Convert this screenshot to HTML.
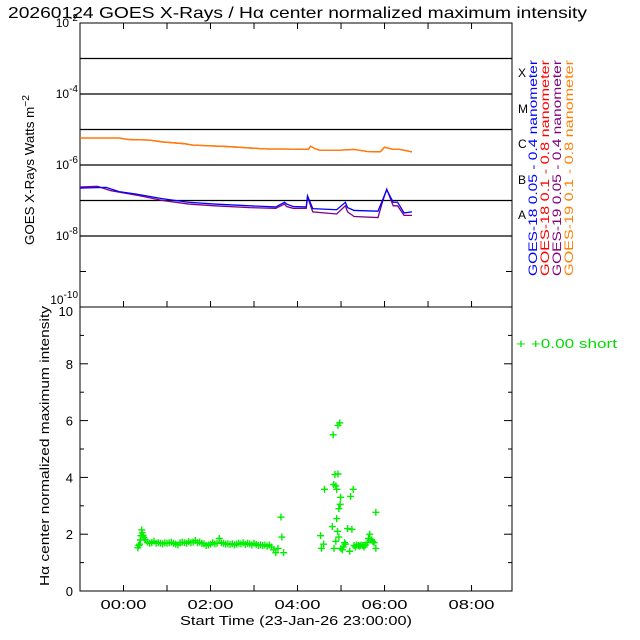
<!DOCTYPE html>
<html><head><meta charset="utf-8"><style>
body{margin:0;background:#fff}
svg{display:block;font-family:"Liberation Sans",sans-serif}
</style></head><body>
<svg id="c" width="640" height="640" xmlns="http://www.w3.org/2000/svg">
<rect width="640" height="640" fill="#fff"/>
<text x="8" y="18" font-size="16" textLength="579" lengthAdjust="spacingAndGlyphs">20260124 GOES X-Rays / Hα center normalized maximum intensity</text>
<text transform="translate(34,170) rotate(-90)" text-anchor="middle" font-size="13" textLength="150" lengthAdjust="spacingAndGlyphs">GOES X-Rays Watts m<tspan dy="-5" font-size="10">−2</tspan></text>
<text transform="translate(49,446) rotate(-90)" text-anchor="middle" font-size="13" textLength="280" lengthAdjust="spacingAndGlyphs">Hα center normalized maximum intensity</text>
<text x="296" y="625" text-anchor="middle" font-size="13" textLength="232" lengthAdjust="spacingAndGlyphs">Start Time (23-Jan-26 23:00:00)</text>
<g font-size="12">
<text transform="translate(537,276) rotate(-90)" fill="#0000ff" textLength="216" lengthAdjust="spacingAndGlyphs">GOES-18 0.05 - 0.4 nanometer</text>
<text transform="translate(549,276) rotate(-90)" fill="#ff0000" textLength="216" lengthAdjust="spacingAndGlyphs">GOES-18  0.1  - 0.8 nanometer</text>
<text transform="translate(561,276) rotate(-90)" fill="#800080" textLength="216" lengthAdjust="spacingAndGlyphs">GOES-19 0.05 - 0.4 nanometer</text>
<text transform="translate(573,276) rotate(-90)" fill="#ff8000" textLength="216" lengthAdjust="spacingAndGlyphs">GOES-19  0.1  - 0.8 nanometer</text>
<text x="516" y="348" fill="#00dd00" font-size="13" textLength="101" lengthAdjust="spacingAndGlyphs">+  +0.00 short</text>
</g>
<g font-size="12">
<text x="518" y="77">X</text><text x="518" y="113">M</text><text x="518" y="148">C</text><text x="518" y="184">B</text><text x="518" y="219">A</text>
</g>
<g id="g"></g>
</svg>
<script>
const orangeH=[-1,-0.1,0.1,0.6,0.9,1.4,1.6,2.4,2.9,3.3,3.7,4.25,4.3,4.4,4.5,5.0,5.3,5.6,5.9,6.0,6.2,6.35,6.63];
const orangeV=[-5.24,-5.24,-5.28,-5.30,-5.35,-5.40,-5.44,-5.48,-5.52,-5.55,-5.55,-5.56,-5.47,-5.54,-5.58,-5.58,-5.56,-5.62,-5.63,-5.50,-5.56,-5.56,-5.63];
const blueH=[-1,-0.4,-0.1,0.3,0.9,1.5,2.1,2.9,3.5,3.7,3.75,3.9,4.2,4.23,4.35,4.9,5.1,5.15,5.3,5.85,5.95,6.05,6.2,6.3,6.45,6.63];
const blueV=[-6.65,-6.63,-6.75,-6.82,-6.95,-7.05,-7.10,-7.15,-7.18,-7.05,-7.10,-7.17,-7.18,-6.87,-7.23,-7.26,-7.05,-7.20,-7.28,-7.30,-7.0,-6.70,-7.05,-7.05,-7.35,-7.32];
const purpleH=[-1,-0.6,-0.3,0.3,0.9,1.5,2.1,2.9,3.5,3.7,3.75,3.9,4.2,4.23,4.35,4.9,5.1,5.15,5.3,5.85,5.95,6.05,6.2,6.3,6.45,6.63];
const purpleV=[-6.62,-6.60,-6.72,-6.85,-7.0,-7.10,-7.15,-7.20,-7.22,-7.10,-7.17,-7.22,-7.22,-6.90,-7.32,-7.38,-7.15,-7.32,-7.45,-7.48,-7.05,-6.68,-7.15,-7.15,-7.42,-7.42];
const haH=[0.33,0.35,0.37,0.39,0.40,0.42,0.43,0.45,0.47,0.5,0.55,0.6,0.65,0.7,0.75,0.8,0.85,0.9,0.95,1.0,1.05,1.1,1.15,1.2,1.25,1.3,1.35,1.4,1.45,1.5,1.55,1.6,1.65,1.7,1.75,1.8,1.85,1.9,1.95,2.0,2.05,2.1,2.15,2.2,2.25,2.3,2.35,2.4,2.45,2.5,2.55,2.6,2.65,2.7,2.75,2.8,2.85,2.9,2.95,3.0,3.05,3.1,3.15,3.2,3.25,3.3,3.35,3.4,3.45,3.5,3.55,3.62,3.64,3.68,
4.53,4.55,4.6,4.62,4.8,4.82,4.83,4.84,4.86,4.88,4.88,4.9,4.9,4.92,4.93,4.93,4.95,4.95,4.97,4.98,4.99,5.0,5.03,5.05,5.08,5.1,5.15,5.2,5.22,5.25,5.28,5.3,5.33,5.36,5.4,5.43,5.46,5.5,5.53,5.56,5.6,5.63,5.66,5.7,5.73,5.76,5.8,5.8];
const haV=[1.52,1.6,1.65,1.8,1.95,2.15,2.05,1.95,1.88,1.8,1.72,1.68,1.7,1.75,1.68,1.7,1.68,1.66,1.7,1.68,1.7,1.72,1.68,1.65,1.62,1.7,1.72,1.7,1.68,1.74,1.7,1.72,1.78,1.7,1.72,1.68,1.66,1.6,1.62,1.65,1.7,1.66,1.68,1.85,1.7,1.68,1.65,1.66,1.64,1.66,1.62,1.65,1.68,1.66,1.7,1.64,1.68,1.66,1.62,1.68,1.64,1.6,1.62,1.6,1.62,1.58,1.62,1.55,1.45,1.35,1.5,2.6,1.9,1.35,
1.95,1.5,1.65,3.58,2.27,5.5,3.75,1.5,4.1,3.7,1.75,3.58,2.55,2.1,4.12,5.83,2.9,1.9,5.92,3.05,3.3,1.5,1.45,1.55,1.7,1.65,2.2,1.4,3.33,2.17,3.58,1.6,1.55,1.62,1.6,1.58,1.62,1.6,1.55,1.62,1.7,1.85,2.0,1.8,1.75,1.7,2.77,1.5];
const topTicks=[-2,-4,-6,-8,-10];
const botTicks=[0,2,4,6,8,10];
const timeLabels=['00:00','02:00','04:00','06:00','08:00'];
const timeLabelHours=[0,2,4,6,8];

const X0=80,X1=512,HMIN=-1,HMAX=8.93;
const TY0=23,TY1=307,BY0=307,BY1=591;
const sx=h=>X0+(h-HMIN)/(HMAX-HMIN)*(X1-X0);
const sty=v=>TY0+(-2-v)/8*(TY1-TY0);
const sby=v=>BY1-v/10*(BY1-BY0);
const g=document.getElementById('g');
const NS='http://www.w3.org/2000/svg';
function mk(t,a){const e=document.createElementNS(NS,t);for(const k in a)e.setAttribute(k,a[k]);g.appendChild(e);return e;}

for(let d=-3;d>=-8;d--){const l=mk('line',{x1:X0,x2:X1,y1:sty(d),y2:sty(d),stroke:'#000','stroke-width':1.3});

}
const f1=mk('rect',{x:X0,y:TY0,width:X1-X0,height:TY1-TY0,fill:'none',stroke:'#000'});


const f2=mk('rect',{x:X0,y:BY0,width:X1-X0,height:BY1-BY0,fill:'none',stroke:'#000'});


for(let h=0;h<=8;h++){const x=sx(h);
mk('line',{x1:x,x2:x,y1:TY1,y2:TY1-6,stroke:'#000'});mk('line',{x1:x,x2:x,y1:TY0,y2:TY0+6,stroke:'#000'});
mk('line',{x1:x,x2:x,y1:BY1,y2:BY1-6,stroke:'#000'});}
timeLabels.forEach((t,i)=>{const e=mk('text',{x:sx(timeLabelHours[i]),y:609,'text-anchor':'middle','font-size':13,textLength:46,lengthAdjust:'spacingAndGlyphs'});e.textContent=t;

});
for(let d=-2;d>=-10;d--){const y=sty(d);mk('line',{x1:X0,x2:X0+6,y1:y,y2:y,stroke:'#000'});mk('line',{x1:X1,x2:X1-6,y1:y,y2:y,stroke:'#000'});}
topTicks.forEach(v=>{const y=v===-10?sty(v)-3:sty(v)+4;
const e=mk('text',{x:X0-2,y:y,'text-anchor':'end','font-size':12});
e.innerHTML='10<tspan dy="-6" font-size="10">'+v+'</tspan>';

});
for(let v=0;v<=10;v++){const y=sby(v),L=v%2?4:8;mk('line',{x1:X0,x2:X0+L,y1:y,y2:y,stroke:'#000'});mk('line',{x1:X1,x2:X1-L,y1:y,y2:y,stroke:'#000'});}
botTicks.forEach(v=>{const y=v===10?sby(v)+9:sby(v)+5;
const e=mk('text',{x:X0-7,y:y,'text-anchor':'end','font-size':13});e.textContent=v;

});
function line(H,V,col,name){const p=mk('polyline',{points:H.map((h,i)=>sx(h)+','+sty(V[i])).join(' '),fill:'none',stroke:col,'stroke-width':1.3});

}
line(orangeH,orangeV,'#ff0000','goes18-long-line');
line(orangeH,orangeV,'#ff8000','goes19-long-line');
line(purpleH,purpleV,'#800080','goes19-short-line');
line(blueH,blueV,'#0000ff','goes18-short-line');
haH.forEach((h,i)=>{const x=sx(h),y=sby(haV[i]);
const p=mk('path',{d:`M${x-3.5} ${y}H${x+3.5}M${x} ${y-3.5}V${y+3.5}`,stroke:'#00ee00','stroke-width':1.4});

});
</script>
</body></html>
